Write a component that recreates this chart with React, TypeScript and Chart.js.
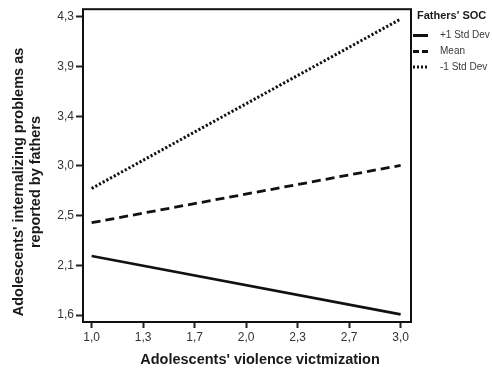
import React, { useEffect, useRef } from "react";
import { Chart, registerables } from "chart.js";

Chart.register(...registerables);

const X_VALUES = [1.0, 3.0];
const PLUS_SD = [2.135, 1.606];
const MEAN = [2.436, 2.955];
const MINUS_SD = [2.746, 4.28];

const SERIES_LABELS = ["+1 Std Dev", "Mean", "-1 Std Dev"];
const LEGEND_TITLE = "Fathers' SOC";

const X_TICK_VALUES = [1.0, 1.3333, 1.6667, 2.0, 2.3333, 2.6667, 3.0];
const X_TICK_LABELS = ["1,0", "1,3", "1,7", "2,0", "2,3", "2,7", "3,0"];
const Y_TICK_VALUES = [1.6, 2.05, 2.5, 2.95, 3.4, 3.85, 4.3];
const Y_TICK_LABELS = ["1,6", "2,1", "2,5", "3,0", "3,4", "3,9", "4,3"];

const X_TITLE = "Adolescents' violence victmization";
const Y_TITLE = ["Adolescents' internalizing problems as", "reported by fathers"];

const FONT = "'Liberation Sans', Arial, sans-serif";
const DASHES = [[], [9, 5], [2.2, 2]];
const LEGEND_DASHES = [[], [6, 3], [2, 2]];
const WIDTHS = [2.6, 2.8, 3];

const toPoints = (ys: number[]) => ys.map((y, i) => ({ x: X_VALUES[i], y }));

export default function App() {
  const ref = useRef<HTMLCanvasElement | null>(null);

  useEffect(() => {
    if (!ref.current) return;

    const decor = {
      id: "decor",
      afterDatasetsDraw(chart: any) {
        const { ctx, chartArea } = chart;
        const { left, top, right, bottom } = chartArea;
        ctx.save();
        ctx.strokeStyle = "#111";
        ctx.lineWidth = 2;
        ctx.setLineDash([]);
        ctx.strokeRect(left, top, right - left, bottom - top);

        ctx.fillStyle = "#1a1a1a";
        ctx.font = `bold 14.5px ${FONT}`;
        ctx.textAlign = "center";
        ctx.textBaseline = "middle";
        ctx.fillText(X_TITLE, 260, 360);

        ctx.save();
        ctx.translate(19, 182);
        ctx.rotate(-Math.PI / 2);
        ctx.fillText(Y_TITLE[0], 0, 0);
        ctx.restore();
        ctx.save();
        ctx.translate(36, 182);
        ctx.rotate(-Math.PI / 2);
        ctx.fillText(Y_TITLE[1], 0, 0);
        ctx.restore();

        ctx.textAlign = "left";
        ctx.font = `bold 11px ${FONT}`;
        ctx.fillStyle = "#1a1a1a";
        ctx.fillText(LEGEND_TITLE, 417, 16);
        const ys = [35.5, 51.5, 67];
        ctx.font = `10px ${FONT}`;
        SERIES_LABELS.forEach((lab, i) => {
          ctx.strokeStyle = "#111";
          ctx.lineWidth = 3;
          ctx.setLineDash(LEGEND_DASHES[i]);
          ctx.beginPath();
          ctx.moveTo(413, ys[i]);
          ctx.lineTo(428, ys[i]);
          ctx.stroke();
          ctx.setLineDash([]);
          ctx.fillStyle = "#3a3a3a";
          ctx.fillText(lab, 440, ys[i]);
        });
        ctx.restore();
      },
    };

    const series = [PLUS_SD, MEAN, MINUS_SD];
    const chart = new Chart(ref.current, {
      type: "line",
      data: {
        datasets: series.map((s, i) => ({
          label: SERIES_LABELS[i],
          data: toPoints(s),
          borderColor: "#111",
          borderWidth: WIDTHS[i],
          borderDash: DASHES[i],
          pointRadius: 0,
          fill: false,
          tension: 0,
        })),
      },
      options: {
        animation: false,
        responsive: false,
        devicePixelRatio: 1,
        layout: { padding: { left: 0, top: 8, right: 81, bottom: 0 } },
        plugins: {
          legend: { display: false },
          tooltip: { enabled: false },
        },
        scales: {
          x: {
            type: "linear",
            min: 0.944,
            max: 3.067,
            afterFit: (scale: any) => {
              scale.height = 48;
            },
            afterBuildTicks: (scale: any) => {
              scale.ticks = X_TICK_VALUES.map((v) => ({ value: v }));
            },
            border: { display: false },
            grid: {
              drawOnChartArea: false,
              drawTicks: true,
              tickLength: 6,
              tickWidth: 2,
              tickColor: "#222",
            },
            ticks: {
              autoSkip: false,
              maxRotation: 0,
              padding: 2,
              color: "#333",
              font: { family: FONT, size: 12 },
              callback: (_v: any, i: number) => X_TICK_LABELS[i],
            },
          },
          y: {
            type: "linear",
            min: 1.537,
            max: 4.369,
            afterFit: (scale: any) => {
              scale.width = 83;
            },
            afterBuildTicks: (scale: any) => {
              scale.ticks = Y_TICK_VALUES.map((v) => ({ value: v }));
            },
            border: { display: false },
            grid: {
              drawOnChartArea: false,
              drawTicks: true,
              tickLength: 7,
              tickWidth: 2,
              tickColor: "#222",
            },
            ticks: {
              autoSkip: false,
              padding: 2,
              color: "#333",
              font: { family: FONT, size: 12 },
              callback: (_v: any, i: number) => Y_TICK_LABELS[i],
            },
          },
        },
      },
      plugins: [decor],
    });

    return () => chart.destroy();
  }, []);

  return (
    <div
      style={{
        position: "fixed",
        left: 0,
        top: 0,
        width: 492,
        height: 370,
        background: "#fff",
      }}
    >
      <canvas ref={ref} width={492} height={370} style={{ display: "block" }} />
    </div>
  );
}
